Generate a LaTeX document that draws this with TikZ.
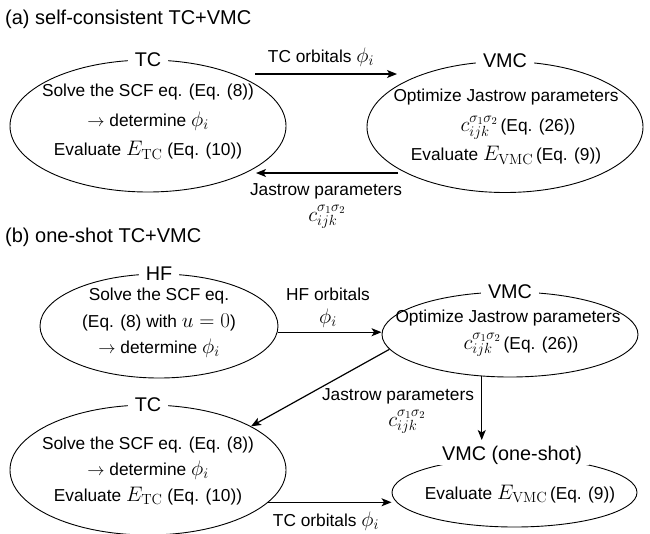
\RequirePackage{fix-cm}
\documentclass[tikz,border=0pt]{standalone}
\usepackage[no-math]{fontspec}
\setmainfont{Liberation Sans}
\usetikzlibrary{arrows.meta,shapes.geometric}
\tikzset{
  blob/.style={draw, ellipse, line width=0.9pt, inner sep=0pt},
  blobtitle/.style={fill=white, inner xsep=7pt, inner ysep=1pt, font=\fontsize{19.8}{22}\selectfont},
  bodytext/.style={align=center, inner sep=0pt},
  flow/.style={line width=1.2pt, -{Stealth[length=10pt,width=8pt,inset=2.5pt]}},
  lbl/.style={inner sep=0pt, font=\fontsize{17.3}{20}\selectfont},
  heading/.style={anchor=west, inner sep=0pt, font=\fontsize{20}{24}\selectfont}
}
\newcommand{\mymath}[1]{{\fontsize{21}{22}\selectfont$#1$}}
\newcommand{\jcoef}{\mymath{c_{ijk}^{\sigma_1\sigma_2}}}
\newcommand{\phii}{\mymath{\phi_i}}
\newcommand{\tarrow}{$\rightarrow$}
\begin{document}
\begin{tikzpicture}[x=1pt,y=-1pt]
\useasboundingbox (0,0) rectangle (650,533);

% ---------- (a) ----------
\node[heading] (ta) at (5,19) {(a) self-consistent TC+VMC};

\node[blob, minimum width=276pt, minimum height=132pt] (tca) at (148,126) {};
\node[blobtitle] (tcat) at (tca.north) {TC};
\node[bodytext, font=\fontsize{17.3}{29.5}\selectfont] (tcab) at (148,122)
  {Solve the SCF eq. (Eq. (8))\\\tarrow{} determine \phii\\Evaluate \mymath{E_{\mathrm{TC}}} (Eq. (10))};

\node[blob, minimum width=276pt, minimum height=131pt] (vmca) at (505,127) {};
\node[blobtitle] (vmcat) at (vmca.north) {VMC};
\node[bodytext, font=\fontsize{17.3}{29.5}\selectfont] (vmcab) at (506,127)
  {Optimize Jastrow parameters\\\hspace*{24pt}\jcoef\,(Eq. (26))\\Evaluate \mymath{E_{\mathrm{VMC}}}\,(Eq. (9))};

\coordinate (a1s) at (255,74);
\coordinate (a1e) at (397,74);
\draw[flow] (a1s) -- (a1e);
\node[lbl] (a1l) at (321,57) {TC orbitals \phii};

\coordinate (a2s) at (398,173);
\coordinate (a2e) at (256,173);
\draw[flow] (a2s) -- (a2e);
\node[lbl] (a2l) at (326,191) {Jastrow parameters};
\node[lbl] (a2m) at (327,217) {\jcoef};

% ---------- (b) ----------
\node[heading] (tb) at (5,237) {(b) one-shot TC+VMC};

\node[blob, minimum width=238pt, minimum height=104pt] (hf) at (159,326) {};
\node[blobtitle] (hft) at (hf.north) {HF};
\node[bodytext, font=\fontsize{17.3}{26.5}\selectfont] (hfb) at (159,323)
  {Solve the SCF eq.\\(Eq. (8) with \mymath{u=0})\\\tarrow{} determine \phii};

\node[blob, minimum width=256pt, minimum height=85pt] (vmcb) at (510,334.5) {};
\node[blobtitle] (vmcbt) at (vmcb.north) {VMC};
\node[bodytext, font=\fontsize{17.3}{27}\selectfont] (vmcbb) at (508,333)
  {Optimize Jastrow parameters\\\hspace*{26pt}\jcoef\,(Eq. (26))};

\node[blob, minimum width=276pt, minimum height=130pt] (tcb) at (148,470) {};
\node[blobtitle] (tcbt) at (tcb.north) {TC};
\node[bodytext, font=\fontsize{17.3}{26}\selectfont] (tcbb) at (148,471)
  {Solve the SCF eq. (Eq. (8))\\\tarrow{} determine \phii\\Evaluate \mymath{E_{\mathrm{TC}}} (Eq. (10))};

\node[blob, minimum width=245pt, minimum height=69pt] (vmc1) at (514.5,492.5) {};
\node[blobtitle] (vmc1t) at (512,455) {VMC (one-shot)};
\node[bodytext, font=\fontsize{17.3}{20}\selectfont] (vmc1b) at (520,494)
  {Evaluate \mymath{E_{\mathrm{VMC}}}\,(Eq. (9))};

\draw[flow] (hf.-3.4) -- (hf.-3.4 -| vmcb.west);
\node[lbl] (b1l) at (328,294) {HF orbitals};
\node[lbl] (b1m) at (328,318) {\phii};

\draw[flow] (vmcb.187.2) -- (tcb.23.8);
\node[lbl] (b2l) at (398,396) {Jastrow parameters};
\node[lbl] (b2m) at (407,422) {\jcoef};

\coordinate (b3e) at (482,440);
\draw[flow] (vmcb.236) -- (vmcb.236 |- b3e);

\draw[flow] (tcb.-15.4) -- (tcb.-15.4 -| vmc1.west);
\node[lbl] (b4l) at (326,521) {TC orbitals \phii};
\end{tikzpicture}
\end{document}
